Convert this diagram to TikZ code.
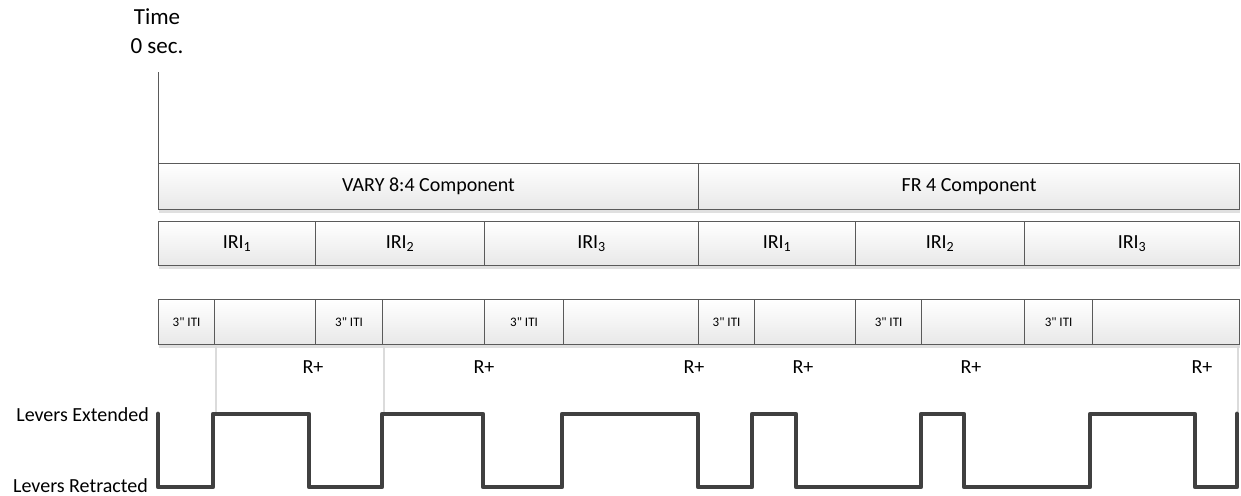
\documentclass[tikz,border=0pt]{standalone}
\usepackage{fontspec}
\setmainfont{Carlito}
\newfontfamily\itifont{Carlito}
\usetikzlibrary{shadows}
\definecolor{boxEdge}{HTML}{5A5A5A}
\definecolor{waveGray}{HTML}{404040}
\begin{document}
\begin{tikzpicture}[x=1pt,y=-1pt,
    blk/.style={rectangle, draw=boxEdge, line width=1.1pt, top color=white,
                bottom color=black!9, inner sep=0pt, anchor=north west,
                general shadow={fill=black!12, shadow yshift=-3pt}},
    comp/.style={blk, minimum height=46pt, font=\fontsize{20}{22}\selectfont},
    iri/.style={blk, minimum height=44pt, font=\fontsize{20}{22}\selectfont},
    itibox/.style={blk, minimum height=45pt, font=\itifont\fontsize{13}{15}\selectfont},
    lev/.style={anchor=base east, inner sep=0pt, font=\fontsize{20}{22}\selectfont},
    rp/.style={font=\fontsize{20}{22}\selectfont},
    guide/.style={draw=black!14, line width=1.3pt},
    wave/.style={draw=waveGray, line width=4.8pt, line join=round, line cap=round}]
  \useasboundingbox (0,0) rectangle (1241,495);

  % time origin
  \node[font=\fontsize{23}{26}\selectfont] (time) at (157,17) {Time};
  \node[font=\fontsize{23}{26}\selectfont] (zero) at (157,46) {0 sec.};
  \coordinate (t0) at (158,72);

  % components
  \node[comp, minimum width=540pt] (vary) at (158,163) {VARY 8:4 Component};
  \node[comp, minimum width=541pt] (fr)   at (698,163) {FR 4 Component};
  \draw[boxEdge, line width=1pt] (t0) -- (vary.north west);

  % inter-reinforcement intervals
  \node[iri, minimum width=157pt] (iria) at (158,221)  {IRI\textsubscript{1}};
  \node[iri, minimum width=169pt] (irib) at (315,221)  {IRI\textsubscript{2}};
  \node[iri, minimum width=214pt] (iric) at (484,221)  {IRI\textsubscript{3}};
  \node[iri, minimum width=157pt] (irid) at (698,221)  {IRI\textsubscript{1}};
  \node[iri, minimum width=169pt] (irie) at (855,221)  {IRI\textsubscript{2}};
  \node[iri, minimum width=215pt] (irif) at (1024,221) {IRI\textsubscript{3}};

  % ITI and lever periods
  \node[itibox, minimum width=56pt]  (ita) at (158,299)  {3" ITI};
  \node[itibox, minimum width=101pt] (itb) at (214,299)  {};
  \node[itibox, minimum width=67pt]  (itc) at (315,299)  {3" ITI};
  \node[itibox, minimum width=102pt] (itd) at (382,299)  {};
  \node[itibox, minimum width=79pt]  (ite) at (484,299)  {3" ITI};
  \node[itibox, minimum width=135pt] (itf) at (563,299)  {};
  \node[itibox, minimum width=56pt]  (itg) at (698,299)  {3" ITI};
  \node[itibox, minimum width=101pt] (ith) at (754,299)  {};
  \node[itibox, minimum width=66pt]  (itj) at (855,299)  {3" ITI};
  \node[itibox, minimum width=103pt] (itk) at (921,299)  {};
  \node[itibox, minimum width=68pt]  (itl) at (1024,299) {3" ITI};
  \node[itibox, minimum width=147pt] (itm) at (1092,299) {};

  % reinforcers
  \node[rp] (ra) at (313,367)  {R+};
  \node[rp] (rb) at (484,367)  {R+};
  \node[rp] (rc) at (694,367)  {R+};
  \node[rp] (rd) at (803,367)  {R+};
  \node[rp] (re) at (971,367)  {R+};
  \node[rp] (rf) at (1202,367) {R+};

  \draw[guide] (216,346) -- (216,412);
  \draw[guide] (384,346) -- (384,412);
  \draw[guide] (1238,346) -- (1238,412);

  % lever state
  \node[lev] (ext) at (149,421) {Levers Extended};
  \node[lev] (ret) at (148,492) {Levers Retracted};
  \draw[wave] (158,414) -- (158,487) -- (213,487) -- (213,414) -- (309,414)
    -- (309,487) -- (382,487) -- (382,414) -- (483,414) -- (483,487)
    -- (562,487) -- (562,414) -- (698,414) -- (698,487) -- (752,487)
    -- (752,414) -- (796,414) -- (796,487) -- (921,487) -- (921,414)
    -- (964,414) -- (964,487) -- (1090,487) -- (1090,414) -- (1195,414)
    -- (1195,487) -- (1237,487) -- (1237,414);
\end{tikzpicture}
\end{document}
